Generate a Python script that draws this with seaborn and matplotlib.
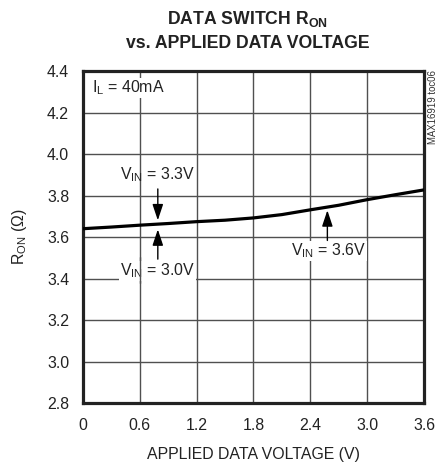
import matplotlib
matplotlib.use("Agg")
import matplotlib.pyplot as plt
from matplotlib import font_manager
import seaborn as sns
import pandas as pd

# Data
voltage = [0.0, 0.3, 0.6, 0.9, 1.2, 1.5, 1.8, 2.1, 2.4, 2.7, 3.0, 3.3, 3.6]
r_on = [3.640, 3.648, 3.657, 3.665, 3.674, 3.681, 3.692, 3.708, 3.731, 3.753, 3.780, 3.804, 3.827]
x_ticks = [0, 0.6, 1.2, 1.8, 2.4, 3.0, 3.6]
x_tick_labels = ["0", "0.6", "1.2", "1.8", "2.4", "3.0", "3.6"]
y_ticks = [2.8, 3.0, 3.2, 3.4, 3.6, 3.8, 4.0, 4.2, 4.4]
y_tick_labels = ["2.8", "3.0", "3.2", "3.4", "3.6", "3.8", "4.0", "4.2", "4.4"]

names = {f.name for f in font_manager.fontManager.ttflist}
narrow = "Liberation Sans Narrow" in names
base = "Liberation Sans Narrow" if narrow else "Liberation Sans"
k = 1.0 if narrow else 0.82  # size factor

sns.set_style("white")
plt.rcParams["font.family"] = [base, "DejaVu Sans"]
plt.rcParams["mathtext.fontset"] = "custom"
plt.rcParams["mathtext.rm"] = base
plt.rcParams["mathtext.it"] = base
plt.rcParams["mathtext.bf"] = base + ":bold"

GRID = "#505050"
TXT = "#222222"
ARROW = "-|>,head_length=0.75,head_width=0.25"

fig = plt.figure(figsize=(4.4, 4.62), dpi=100)
ax = fig.add_axes([0.1886, 0.1277, 0.775, 0.7186])

df = pd.DataFrame({"v": voltage, "r": r_on})
sns.lineplot(data=df, x="v", y="r", ax=ax, color="black", linewidth=2.3, zorder=5)

fs = 14 * k
ax.set_xlim(0, 3.6)
ax.set_ylim(2.8, 4.4)
ax.set_xticks(x_ticks)
ax.set_xticklabels(x_tick_labels)
ax.set_yticks(y_ticks)
ax.set_yticklabels(y_tick_labels)
ax.tick_params(axis="both", length=0, labelsize=fs, colors=TXT)
ax.tick_params(axis="x", pad=11)
ax.tick_params(axis="y", pad=10)
ax.grid(True, color=GRID, linewidth=1.0)
for s in ax.spines.values():
    s.set_color(TXT)
    s.set_linewidth(2.3)
    s.set_visible(True)

ax.set_xlabel("APPLIED DATA VOLTAGE (V)", fontsize=fs, labelpad=10, color=TXT)
ax.set_ylabel(r"R$_\mathregular{ON}$ ($\Omega$)", fontsize=fs, labelpad=13, color=TXT)

tfs = 15.5 * k
fig.text(0.5625, 1 - 24 / 462, r"DATA SWITCH R$_\mathbf{ON}$", ha="center", va="baseline",
         fontsize=tfs, fontweight="bold", color=TXT)
fig.text(0.5625, 1 - 48 / 462, "vs. APPLIED DATA VOLTAGE", ha="center", va="baseline",
         fontsize=tfs, fontweight="bold", color=TXT)

afs = 14 * k
ax.text(0.09, 4.32, r"I$_\mathregular{L}$ = 40mA", fontsize=afs, ha="left", va="center",
        color=TXT, bbox=dict(facecolor="white", edgecolor="none", pad=0.5), zorder=6)

# V_IN = 3.3V annotation (arrow down)
ax.text(0.39, 3.90, r"V$_\mathregular{IN}$ = 3.3V", fontsize=afs, ha="left", va="center",
        color=TXT, zorder=6)
ax.annotate("", xy=(0.79, 3.667), xytext=(0.79, 3.845),
            arrowprops=dict(arrowstyle=ARROW, color="black", lw=1.0, mutation_scale=13), zorder=7)
# V_IN = 3.0V annotation (arrow up)
ax.text(0.39, 3.438, r"V$_\mathregular{IN}$ = 3.0V", fontsize=afs, ha="left", va="center",
        color=TXT, bbox=dict(facecolor="white", edgecolor="none", pad=0.5), zorder=6)
ax.axvline(0.6, ymin=0.36, ymax=0.44, color=GRID, linewidth=1.0, zorder=6.5)
ax.annotate("", xy=(0.79, 3.650), xytext=(0.79, 3.48),
            arrowprops=dict(arrowstyle=ARROW, color="black", lw=1.0, mutation_scale=13), zorder=7)
# V_IN = 3.6V annotation (arrow up)
ax.text(2.20, 3.533, r"V$_\mathregular{IN}$ = 3.6V", fontsize=afs, ha="left", va="center",
        color=TXT, bbox=dict(facecolor="white", edgecolor="none", pad=0.5), zorder=6)
ax.annotate("", xy=(2.58, 3.742), xytext=(2.58, 3.57),
            arrowprops=dict(arrowstyle=ARROW, color="black", lw=1.0, mutation_scale=13), zorder=7)

fig.text(0.984, 1 - 70 / 462, "MAX16919 toc06", rotation=90, ha="center", va="top",
         fontsize=8.5 * k, color="#333333")

fig.savefig("out.png", dpi=100)
